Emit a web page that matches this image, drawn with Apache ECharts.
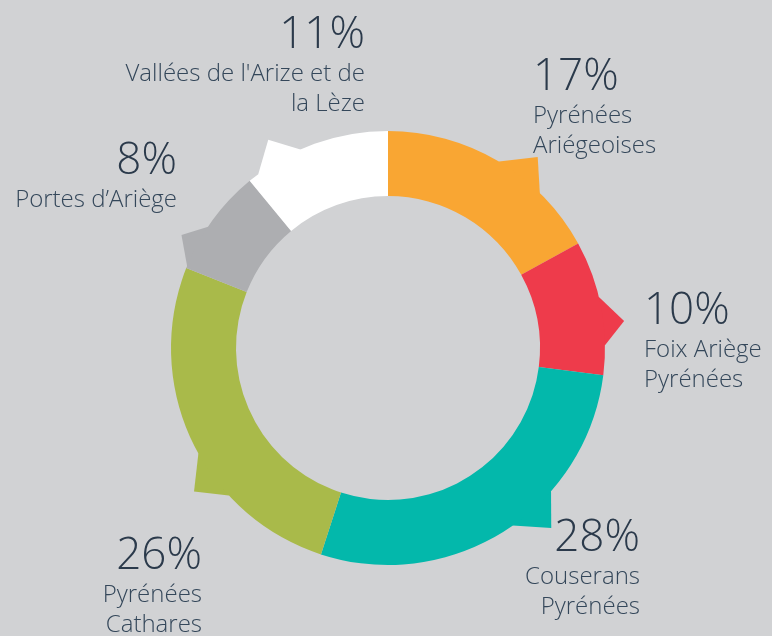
<!DOCTYPE html>
<html>
<head>
<meta charset="utf-8">
<script src="https://cdn.jsdelivr.net/npm/echarts@6/dist/echarts.min.js"></script>
<style>
  html, body { margin: 0; padding: 0; background: #d1d2d4; }
  #chart { width: 772px; height: 636px; }
</style>
</head>
<body>
<div id="chart"></div>
<script>
// territoires, clockwise from 12 o'clock
const regions = ['Pyrénées\nAriégeoises', 'Foix Ariège\nPyrénées', 'Couserans\nPyrénées', 'Pyrénées\nCathares', 'Portes d’Ariège', "Vallées de l'Arize et de\nla Lèze"]
const shares = [17, 10, 28, 26, 8, 11]
const colors = ['#f9a633', '#ee3b4b', '#03b8ab', '#a9ba4a', '#adaeb1', '#ffffff']

// label anchor [x, top y, align]
const labelPos = [
  [533, 54, 'left'],
  [644, 288, 'left'],
  [640, 515, 'right'],
  [202, 533, 'right'],
  [177, 138, 'right'],
  [365, 12, 'right']
]

// little pointers on the outer edge: [startAngle, tipAngle, tipReach, endAngle] (deg clockwise from top)
const tabs = [
  [30.8, 38.1, 1.118, 44.4],
  [76.4, 83.5, 1.095, 89.3],
  [131.3, 137.8, 1.12, 144.9],
  [227.2, 233.5, 1.112, 240.9],
  [292.2, 298.7, 1.085, 304.0],
  [323.3, 330.1, 1.107, 336.2]
]

const CX = 388, CY = 348, R_IN = 152, R_OUT = 217

const chart = echarts.init(document.getElementById('chart'))

function polar(a, r) {
  const rad = a * Math.PI / 180
  return [CX + r * Math.sin(rad), CY - r * Math.cos(rad)]
}

const option = {
  backgroundColor: '#d1d2d4',
  animation: false,
  series: [
    {
      type: 'custom',
      coordinateSystem: 'none',
      silent: true,
      z: 1,
      data: tabs.map((t, i) => i),
      renderItem: function (params, api) {
        const t = tabs[params.dataIndex]
        const pts = [
          polar(t[0], R_OUT * 0.95),
          polar(t[0], R_OUT),
          polar(t[1], R_OUT * t[2]),
          polar(t[3], R_OUT),
          polar(t[3], R_OUT * 0.95)
        ]
        return {
          type: 'polygon',
          shape: { points: pts },
          style: { fill: colors[params.dataIndex] }
        }
      }
    },
    {
      type: 'pie',
      z: 2,
      center: [CX, CY],
      radius: [R_IN, R_OUT],
      startAngle: 90,
      clockwise: true,
      silent: true,
      avoidLabelOverlap: false,
      emphasis: { disabled: true },
      itemStyle: { borderWidth: 0 },
      labelLine: { show: false },
      label: {
        show: true,
        position: 'outside',
        formatter: function (p) {
          const side = labelPos[p.dataIndex][2] === 'left' ? 'l' : 'r'
          const lines = regions[p.dataIndex].split('\n').map(s => '{n' + side + '|' + s + '}')
          return '{p' + side + '|' + shares[p.dataIndex] + '%}\n' + lines.join('\n')
        },
        rich: {
          pl: { fontFamily: 'Open Sans', fontWeight: 300, fontSize: 44, lineHeight: 47, color: '#2b3a4b', align: 'left' },
          pr: { fontFamily: 'Open Sans', fontWeight: 300, fontSize: 44, lineHeight: 47, color: '#2b3a4b', align: 'right' },
          nl: { fontFamily: 'Open Sans', fontWeight: 300, fontSize: 24, lineHeight: 30, color: '#34475a', align: 'left' },
          nr: { fontFamily: 'Open Sans', fontWeight: 300, fontSize: 24, lineHeight: 30, color: '#34475a', align: 'right' }
        }
      },
      labelLayout: function (params) {
        const p = labelPos[params.dataIndex]
        return { x: p[0], y: p[1], align: p[2], verticalAlign: 'top', hideOverlap: false }
      },
      data: shares.map((v, i) => ({ value: v, name: regions[i], itemStyle: { color: colors[i] } }))
    }
  ]
}

chart.setOption(option)
</script>
</body>
</html>
